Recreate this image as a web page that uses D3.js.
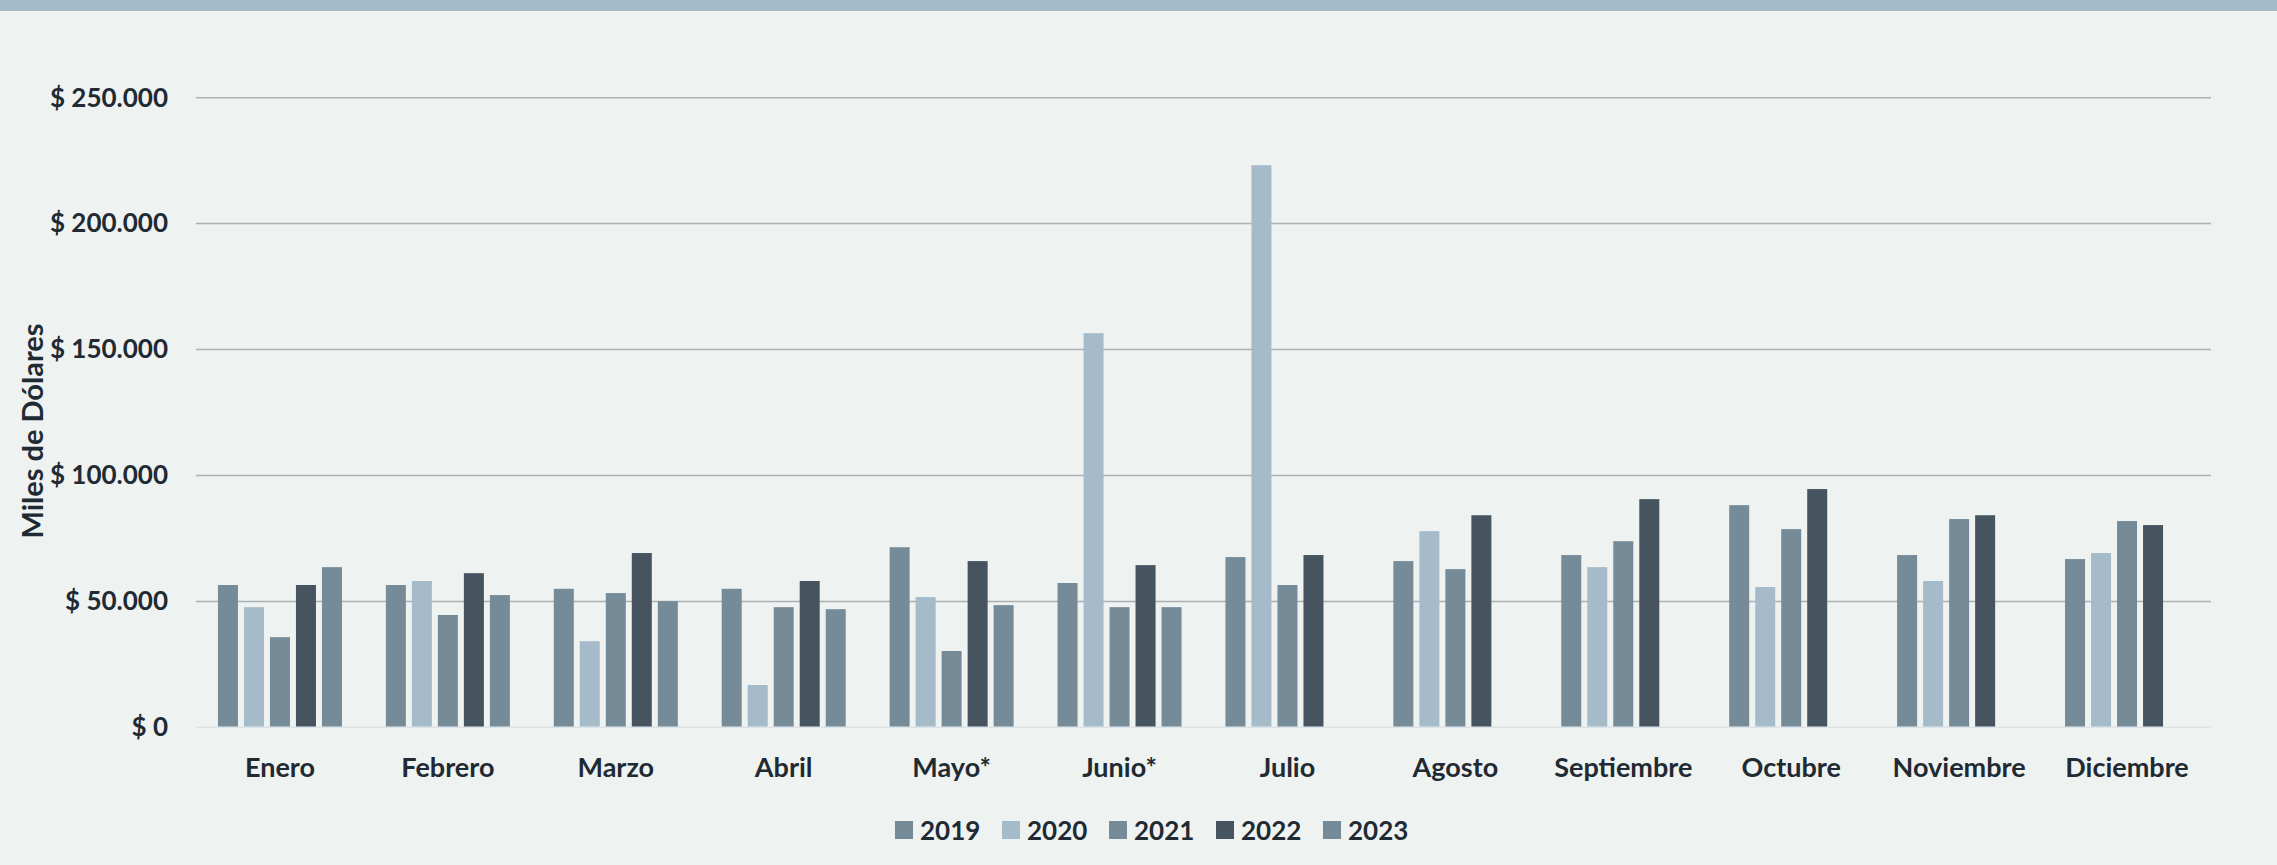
<!DOCTYPE html>
<html>
<head>
<meta charset="utf-8">
<script src="https://cdn.jsdelivr.net/npm/d3@7"></script>
<style>
  html, body { margin: 0; padding: 0; background: #eef3f1; }
  svg { display: block; }
  text { font-family: Lato, "Open Sans", sans-serif; font-weight: 700; fill: #1f2a33; }
</style>
</head>
<body>
<svg id="chart" width="2277" height="865"></svg>
<script>
const months = ["Enero","Febrero","Marzo","Abril","Mayo*","Junio*","Julio","Agosto","Septiembre","Octubre","Noviembre","Diciembre"];
const years = ["2019","2020","2021","2022","2023"];
const v2019 = [56500,56500,55000,55000,71500,57300,67600,66000,68400,88200,68400,66800];
const v2020 = [47700,58100,34200,16800,51700,156500,223200,77900,63600,55700,58100,69200];
const v2021 = [35800,44600,53300,47700,30300,47700,56500,62800,73900,78700,82700,81900];
const v2022 = [56500,61200,69200,58100,66000,64400,68400,84200,90600,94600,84200,80300];
const v2023 = [63600,52500,50100,46900,48500,47700,null,null,null,null,null,null];
const yTicks = [0,50000,100000,150000,200000,250000];
const colors = ["#768b98","#a6bbc9","#768b98","#46545f","#768b98"];

const seriesValues = [v2019, v2020, v2021, v2022, v2023];
const W = 2277, H = 865;
const margin = {left: 196, right: 66, top: 97.7, bottom: 137.7};

const svg = d3.select("#chart");
svg.append("rect").attr("x",0).attr("y",0).attr("width",W).attr("height",H).attr("fill","#eef3f1");
svg.append("rect").attr("x",0).attr("y",0).attr("width",W).attr("height",11).attr("fill","#a5bccb");

const x0 = d3.scaleBand().domain(months).range([margin.left, W - margin.right]).padding(0);
const x1 = d3.scaleBand().domain(years).range([0, x0.bandwidth()]).paddingInner(6/26).paddingOuter(0.844);
const y = d3.scaleLinear().domain([0, 250000]).range([H - margin.bottom, margin.top]);

const fmt = v => "$ " + d3.format(",")(v).replace(/,/g, ".");

// gridlines
const grid = svg.append("g");
grid.selectAll("line").data(yTicks).join("line")
  .attr("x1", margin.left).attr("x2", W - margin.right)
  .attr("y1", d => y(d)).attr("y2", d => y(d))
  .attr("stroke", d => d === 0 ? "#dce3e8" : "#abb1b2")
  .attr("stroke-width", 1.5);

// y axis labels
const yAxis = d3.axisLeft(y).tickValues(yTicks).tickFormat(fmt).tickSize(0).tickPadding(28);
const gy = svg.append("g").attr("transform", `translate(${margin.left},0)`).call(yAxis);
gy.select(".domain").remove();
gy.selectAll("text").style("font-size","26px").style("font-family","Lato, sans-serif").style("font-weight","700").attr("fill","#1f2a33");

// bars
const data = [];
months.forEach((m, i) => {
  years.forEach((yr, j) => {
    const v = seriesValues[j][i];
    if (v !== null && v !== undefined) data.push({m, yr, v, j});
  });
});
svg.append("g").selectAll("rect").data(data).join("rect")
  .attr("x", d => x0(d.m) + x1(d.yr))
  .attr("width", x1.bandwidth())
  .attr("y", d => y(d.v))
  .attr("height", d => y(0) - y(d.v) - 0.8)
  .attr("fill", d => colors[d.j]);

// x axis labels
const xAxis = d3.axisBottom(x0).tickSize(0).tickPadding(31);
const gx = svg.append("g").attr("transform", `translate(0,${y(0)})`).call(xAxis);
gx.select(".domain").remove();
gx.selectAll("text").style("font-size","27px").style("font-family","Lato, sans-serif").style("font-weight","700").attr("fill","#1f2a33");

// y axis title
svg.append("text")
  .attr("transform", `translate(43,431) rotate(-90)`)
  .attr("text-anchor","middle")
  .style("font-size","29px")
  .text("Miles de Dólares");

// legend
const legendX = d3.scaleOrdinal().domain(years).range(years.map((_, i) => 895 + i * 107));
const lg = svg.append("g").selectAll("g").data(years).join("g")
  .attr("transform", d => `translate(${legendX(d)},821)`);
lg.append("rect").attr("width",18).attr("height",18).attr("fill", (d,i) => colors[i]);
lg.append("text").attr("x", 25).attr("y", 19).style("font-size","26px").text(d => d);
</script>
</body>
</html>
